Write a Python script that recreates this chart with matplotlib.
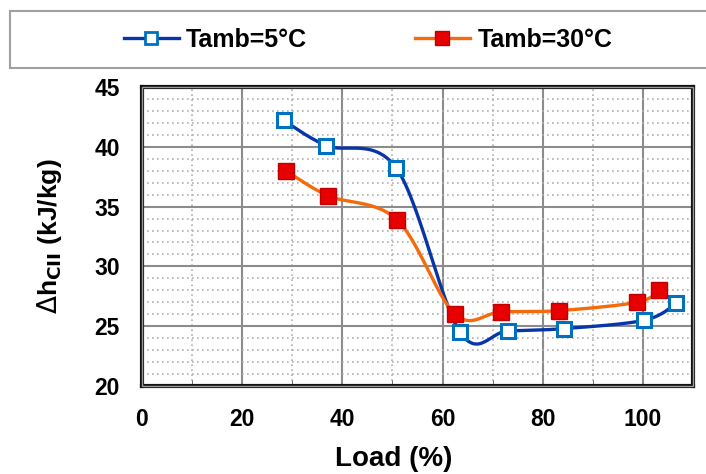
import numpy as np
import matplotlib
matplotlib.use("Agg")
import matplotlib.pyplot as plt
from matplotlib.patches import Rectangle
from matplotlib.lines import Line2D
from matplotlib.ticker import MultipleLocator

plt.rcParams['font.family'] = ['Liberation Sans', 'DejaVu Sans']

load_5 = [28.3, 36.8, 50.8, 63.5, 73.0, 84.3, 100.3, 106.7]
dh_5 = [42.2, 40.1, 38.2, 24.5, 24.6, 24.8, 25.5, 26.9]
load_30 = [28.7, 37.2, 50.9, 62.5, 71.7, 83.2, 98.8, 103.3]
dh_30 = [38.0, 35.9, 33.9, 26.0, 26.2, 26.3, 27.0, 28.0]
label_5 = "Tamb=5°C"
label_30 = "Tamb=30°C"


def smooth(xs, ys, n=30):
    # Catmull-Rom style curve through points (Excel "smoothed line" look)
    x = np.asarray(xs, float)
    y = np.asarray(ys, float)
    px = np.concatenate([[x[0]], x, [x[-1]]])
    py = np.concatenate([[y[0]], y, [y[-1]]])
    ox, oy = [], []
    for i in range(1, len(px) - 2):
        p0x, p1x, p2x, p3x = px[i - 1], px[i], px[i + 1], px[i + 2]
        p0y, p1y, p2y, p3y = py[i - 1], py[i], py[i + 1], py[i + 2]
        c1x = p1x + (p2x - p0x) / 6
        c1y = p1y + (p2y - p0y) / 6
        c2x = p2x - (p3x - p1x) / 6
        c2y = p2y - (p3y - p1y) / 6
        t = np.linspace(0, 1, n)
        b0 = (1 - t) ** 3
        b1 = 3 * (1 - t) ** 2 * t
        b2 = 3 * (1 - t) * t ** 2
        b3 = t ** 3
        ox.append(b0 * p1x + b1 * c1x + b2 * c2x + b3 * p2x)
        oy.append(b0 * p1y + b1 * c1y + b2 * c2y + b3 * p2y)
    return np.concatenate(ox), np.concatenate(oy)


fig = plt.figure(figsize=(7.06, 4.74), dpi=100)
ax = fig.add_axes([142 / 706, 1 - 386 / 474, (693 - 142) / 706, (386 - 87) / 474])

blue_line = '#0836a8'
blue_mk = '#0070c0'
orange_line = '#f56a0a'
red_mk = '#e60000'

sx, sy = smooth(load_5, dh_5)
ax.plot(sx, sy, color=blue_line, lw=2.4, zorder=3)
ax.plot(load_5, dh_5, ls='none', marker='s', ms=9.5, mfc='white', mec=blue_mk, mew=2.2, zorder=4)
sx, sy = smooth(load_30, dh_30)
ax.plot(sx, sy, color=orange_line, lw=2.4, zorder=3)
ax.plot(load_30, dh_30, ls='none', marker='s', ms=11, mfc=red_mk, mec='#c00000', mew=1, zorder=4)

ax.set_xlim(0, 110)
ax.set_ylim(20, 45)
ax.xaxis.set_major_locator(MultipleLocator(20))
ax.xaxis.set_minor_locator(MultipleLocator(10))
ax.yaxis.set_major_locator(MultipleLocator(5))
ax.yaxis.set_minor_locator(MultipleLocator(1))
ax.grid(which='major', color='#8c8c8c', lw=1.5, ls='-')
ax.grid(which='minor', color='#b0b0b0', lw=1.2, ls=(0, (1, 2)))
ax.set_axisbelow(True)
for s in ax.spines.values():
    s.set_linewidth(3)
    s.set_color('#111111')
# inner gray frame line for the double-border look
ax.add_patch(Rectangle((0, 0), 1, 1, transform=ax.transAxes, fill=False,
                       edgecolor='#9a9a9a', lw=1.0, zorder=5, clip_on=False))
ax.tick_params(which='both', length=0, labelsize=16.5, pad=16)
ax.tick_params(axis='x', which='minor', length=4, direction='in', color='#555555')
ax.set_xticks([0, 20, 40, 60, 80, 100])
for lab in ax.get_xticklabels() + ax.get_yticklabels():
    lab.set_fontweight('bold')

ax.set_xlabel('Load (%)', fontsize=20, fontweight='bold')
ax.xaxis.set_label_coords((394 - 142) / 551, (386 - 446) / 299)
ax.set_ylabel(r'$\Delta$h$_{\mathbf{CII}}$ (kJ/kg)', fontsize=19, fontweight='bold', labelpad=22)

# legend box
fig.patches.append(Rectangle((10 / 706, 1 - 68 / 474), 0.99, 57 / 474, transform=fig.transFigure,
                             facecolor='white', edgecolor='#a0a0a0', lw=1.5))
handles = [
    Line2D([], [], color=blue_line, lw=2.4, marker='s', ms=8, mfc='white', mec=blue_mk, mew=2),
    Line2D([], [], color=orange_line, lw=2.4, marker='s', ms=10, mfc=red_mk, mec='#c00000', mew=1),
]
leg = fig.legend(handles, [label_5, label_30], loc='center', bbox_to_anchor=(368 / 706, 1 - 40 / 474),
                 ncol=2, frameon=False, columnspacing=4.3, handlelength=2.2, handletextpad=0.3,
                 prop={'size': 18, 'weight': 'bold'})

fig.savefig('out.png', dpi=100)
